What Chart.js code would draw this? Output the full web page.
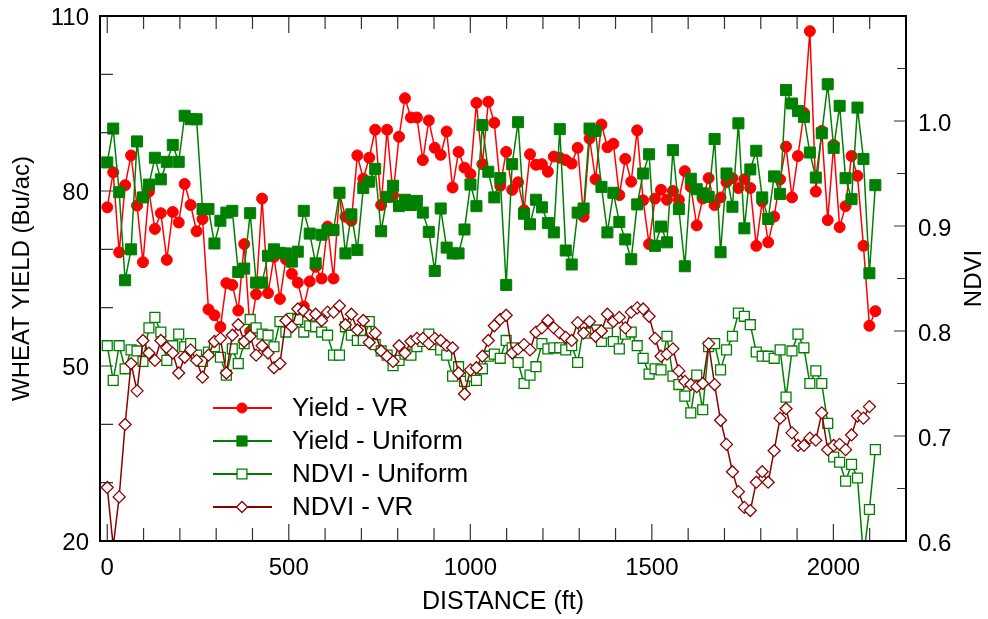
<!DOCTYPE html>
<html><head><meta charset="utf-8">
<script src="https://cdn.jsdelivr.net/npm/chart.js@4/dist/chart.umd.min.js"></script>
<style>html,body{margin:0;padding:0;background:#fff}canvas{display:block}</style>
</head><body>
<canvas id="c" width="988" height="619"></canvas>
<script>
// ---- data ----
const distanceFt = [
0,16.4,32.8,49.2,65.6,82,98.4,114.8,131.2,147.6,
164,180.4,196.8,213.2,229.6,246,262.4,278.8,295.2,311.6,
328,344.4,360.8,377.2,393.6,410,426.4,442.8,459.2,475.6,
492,508.4,524.8,541.2,557.6,574,590.4,606.8,623.2,639.6,
656,672.4,688.8,705.2,721.6,738,754.4,770.8,787.2,803.6,
820,836.4,852.8,869.2,885.6,902,918.4,934.8,951.2,967.6,
984,1000.4,1016.8,1033.2,1049.6,1066,1082.4,1098.8,1115.2,1131.6,
1148,1164.4,1180.8,1197.2,1213.6,1230,1246.4,1262.8,1279.2,1295.6,
1312,1328.4,1344.8,1361.2,1377.6,1394,1410.4,1426.8,1443.2,1459.6,
1476,1492.4,1508.8,1525.2,1541.6,1558,1574.4,1590.8,1607.2,1623.6,
1640,1656.4,1672.8,1689.2,1705.6,1722,1738.4,1754.8,1771.2,1787.6,
1804,1820.4,1836.8,1853.2,1869.6,1886,1902.4,1918.8,1935.2,1951.6,
1968,1984.4,2000.8,2017.2,2033.6,2050,2066.4,2082.8,2099.2,2115.6];

const yieldVR = [
77.2,83.2,69.5,81.0,86.1,77.5,67.8,79.9,73.5,76.2,
68.2,76.4,74.6,81.2,77.6,73.1,75.2,59.7,58.7,56.7,
64.2,63.9,59.5,70.9,55.9,62.3,78.7,62.5,68.7,61.5,
68.3,65.8,64.3,60.2,64.5,67.0,65.0,73.9,65.0,79.6,
75.6,74.9,86.1,82.1,85.7,90.5,77.6,90.5,79.3,89.3,
95.9,92.6,92.6,85.3,92.1,87.4,86.2,90.2,80.6,86.7,
84.0,82.9,95.1,84.6,95.3,91.7,80.9,86.7,80.2,81.5,
76.7,86.3,84.5,84.6,83.3,85.9,85.7,85.3,84.7,87.4,
75.6,89.0,82.0,91.4,87.5,88.1,79.3,85.5,81.6,90.4,
78.4,70.9,78.7,80.2,78.5,80.0,78.5,83.4,80.7,74.1,
78.7,82.2,77.6,78.9,81.5,82.2,80.5,82.0,80.5,70.6,
78.2,71.2,75.6,82.0,87.6,78.9,86.0,93.4,107.4,79.9,
90.3,75.0,87.9,73.8,77.4,86.0,82.6,70.6,56.9,59.4];

const yieldUniform = [
84.9,90.7,79.8,64.7,70.0,88.5,78.9,81.1,85.7,82.0,
85.0,87.9,85.0,92.9,92.3,92.3,76.9,76.9,71.0,74.9,
76.3,76.6,66.1,66.7,76.2,64.3,64.3,68.9,70.0,69.4,
69.3,67.9,69.6,76.6,72.7,67.6,72.5,73.3,73.3,79.7,
69.3,76.0,69.9,80.5,81.6,83.8,73.1,79.0,80.9,77.4,
78.5,77.6,78.3,76.3,73.0,66.3,77.0,70.3,69.3,69.3,
73.4,81.1,77.4,91.3,83.3,78.9,82.2,63.9,84.6,91.8,
76.1,74.3,78.5,77.2,74.5,72.9,90.6,69.8,67.4,76.3,
77.0,90.7,90.3,80.7,72.9,79.7,74.7,71.7,68.3,77.7,
83.0,86.3,70.6,73.9,71.2,87.0,76.9,67.1,82.1,80.3,
79.6,79.0,88.9,69.5,83.0,77.3,91.6,73.6,83.7,86.9,
78.9,75.2,82.5,79.5,97.3,95.0,93.7,92.7,86.6,82.3,
89.9,98.3,87.4,94.6,82.2,78.6,94.3,85.5,65.9,81.0];

const ndviUniform = [
0.786,0.753,0.786,0.764,0.782,0.781,0.771,0.803,0.813,0.799,
0.772,0.786,0.797,0.785,0.788,0.777,0.771,0.780,0.785,0.775,
0.758,0.783,0.769,0.788,0.811,0.803,0.797,0.796,0.785,0.809,
0.799,0.812,0.811,0.799,0.805,0.804,0.799,0.796,0.777,0.777,
0.804,0.796,0.791,0.791,0.809,0.787,0.781,0.777,0.767,0.772,
0.778,0.777,0.785,0.790,0.797,0.787,0.782,0.777,0.757,0.766,
0.752,0.757,0.753,0.764,0.776,0.778,0.774,0.791,0.784,0.770,
0.750,0.758,0.766,0.788,0.783,0.784,0.784,0.782,0.786,0.770,
0.803,0.798,0.801,0.790,0.798,0.790,0.783,0.797,0.799,0.786,
0.774,0.759,0.764,0.763,0.795,0.757,0.749,0.738,0.722,0.758,
0.725,0.785,0.788,0.763,0.782,0.795,0.817,0.814,0.806,0.780,
0.776,0.776,0.774,0.782,0.737,0.781,0.797,0.784,0.750,0.762,
0.750,0.712,0.680,0.675,0.657,0.673,0.660,0.585,0.630,0.687];

const ndviVR = [
0.651,0.595,0.642,0.711,0.769,0.743,0.791,0.779,0.772,0.791,
0.784,0.779,0.760,0.775,0.782,0.772,0.756,0.777,0.790,0.793,
0.760,0.796,0.806,0.790,0.795,0.777,0.786,0.779,0.765,0.769,
0.810,0.804,0.821,0.819,0.815,0.816,0.810,0.818,0.818,0.824,
0.806,0.816,0.801,0.810,0.789,0.798,0.781,0.776,0.771,0.786,
0.779,0.790,0.793,0.793,0.788,0.793,0.791,0.786,0.784,0.760,
0.740,0.763,0.765,0.776,0.791,0.805,0.811,0.815,0.779,0.783,
0.787,0.782,0.799,0.803,0.810,0.803,0.798,0.794,0.791,0.808,
0.798,0.809,0.795,0.800,0.816,0.809,0.813,0.803,0.818,0.822,
0.821,0.814,0.793,0.776,0.778,0.783,0.762,0.752,0.749,0.747,
0.750,0.788,0.749,0.715,0.692,0.666,0.647,0.632,0.629,0.656,
0.666,0.656,0.686,0.717,0.726,0.703,0.691,0.691,0.698,0.696,
0.722,0.687,0.691,0.692,0.687,0.701,0.719,0.717,0.728,null];

const seriesNames = ['Yield - VR', 'Yield - Uniform', 'NDVI - Uniform', 'NDVI - VR'];
const xTickLabels = [0, 500, 1000, 1500, 2000];
const leftTickLabels = [20, 50, 80, 110];
const rightTickLabels = [0.6, 0.7, 0.8, 0.9, 1.0];
const xTitle = 'DISTANCE (ft)';
const leftTitle = 'WHEAT YIELD (Bu/ac)';
const rightTitle = 'NDVI';

// ---- styling ----
const FONT = "'Liberation Sans', Arial, Helvetica, sans-serif";
const RED = '#ff0000', GREEN = '#008000', DARKRED = '#8b0000';
const TICK_SIZE = 24, TITLE_SIZE = 25, LEFT_TITLE_SIZE = 24, LEGEND_SIZE = 26;

const pts = arr => distanceFt.map((d, i) => ({x: d, y: arr[i]}));

const styles = [
  {color: RED, style: 'circle', r: 5.5, fill: RED, bw: 1, legR: 5},
  {color: GREEN, style: 'rect', r: 7.8, fill: GREEN, bw: 1, legR: 7.2},
  {color: GREEN, style: 'rect', r: 7, fill: '#ffffff', bw: 1.3, legR: 7},
  {color: DARKRED, style: 'rectRot', r: 6, fill: '#ffffff', bw: 1.3, legR: 5.5}
];
const seriesData = [yieldVR, yieldUniform, ndviUniform, ndviVR];
const axisIds = ['y', 'y', 'y2', 'y2'];
const drawOrder = [4, 3, 2, 1];

const datasets = seriesData.map((arr, k) => ({
  label: seriesNames[k],
  data: pts(arr),
  yAxisID: axisIds[k],
  order: drawOrder[k],
  borderColor: styles[k].color,
  backgroundColor: styles[k].fill,
  borderWidth: 1.5,
  pointStyle: styles[k].style,
  pointRadius: styles[k].r,
  pointBackgroundColor: styles[k].fill,
  pointBorderColor: styles[k].color,
  pointBorderWidth: styles[k].bw,
  tension: 0,
  spanGaps: false
}));

const frameTicks = {
  id: 'frameTicks',
  afterDraw(chart) {
    const {ctx, chartArea: a, scales} = chart;
    ctx.save();
    ctx.strokeStyle = '#333';
    ctx.lineWidth = 1.2;
    ctx.beginPath();
    for (let d = 0; d <= 2100; d += 100) {
      const px = scales.x.getPixelForValue(d);
      const len = d % 500 === 0 ? 17 : 13;
      ctx.moveTo(px, a.bottom); ctx.lineTo(px, a.bottom - len);
      ctx.moveTo(px, a.top); ctx.lineTo(px, a.top + len);
    }
    for (let v = 30; v < 110; v += 10) {
      const py = scales.y.getPixelForValue(v);
      ctx.moveTo(a.left, py); ctx.lineTo(a.left + 13, py);
    }
    for (let k = 13; k <= 21; k++) {
      const v = k / 20;
      const py = scales.y2.getPixelForValue(v);
      const len = k % 2 === 0 ? 12 : 9;
      ctx.moveTo(a.right, py); ctx.lineTo(a.right - len, py);
    }
    ctx.stroke();
    ctx.strokeStyle = '#000';
    ctx.lineWidth = 2;
    ctx.strokeRect(a.left, a.top, a.right - a.left, a.bottom - a.top);

    // right axis title (reads bottom-to-top)
    ctx.fillStyle = '#000';
    ctx.font = LEFT_TITLE_SIZE + 'px ' + FONT;
    ctx.textAlign = 'center';
    ctx.textBaseline = 'middle';
    ctx.translate(974, (a.top + a.bottom) / 2);
    ctx.rotate(-Math.PI / 2);
    ctx.fillText(rightTitle, 0, 0);
    ctx.restore();

    // legend inside the plot
    ctx.save();
    const rowsY = [408, 441, 474, 507];
    const lx0 = 213, lx1 = 272, mx = 242, tx = 292;
    ctx.font = LEGEND_SIZE + 'px ' + FONT;
    ctx.textAlign = 'left';
    ctx.textBaseline = 'middle';
    for (let k = 0; k < 4; k++) {
      const y = rowsY[k];
      ctx.strokeStyle = styles[k].color;
      ctx.lineWidth = 2;
      ctx.beginPath(); ctx.moveTo(lx0, y); ctx.lineTo(lx1, y); ctx.stroke();
      ctx.fillStyle = styles[k].fill;
      ctx.strokeStyle = styles[k].color;
      ctx.lineWidth = styles[k].bw;
      Chart.helpers.drawPoint(ctx, {pointStyle: styles[k].style, radius: styles[k].legR, rotation: 0, borderWidth: styles[k].bw}, mx, y);
      ctx.fillStyle = '#000';
      ctx.fillText(seriesNames[k], tx, y + 1);
    }
    ctx.restore();
  }
};

const zeroPad = s => { s.paddingTop = 0; s.paddingBottom = 0; s.paddingLeft = 0; s.paddingRight = 0; };

new Chart(document.getElementById('c'), {
  type: 'line',
  data: {datasets},
  options: {
    responsive: false,
    animation: false,
    devicePixelRatio: 1,
    layout: {padding: {top: 16, left: 0, right: 0, bottom: 0}},
    plugins: {legend: {display: false}, tooltip: {enabled: false}},
    scales: {
      x: {
        type: 'linear', position: 'bottom', min: -20, max: 2200,
        grid: {display: false, drawTicks: false}, border: {display: false},
        afterBuildTicks: s => { s.ticks = xTickLabels.map(v => ({value: v})); },
        ticks: {
          autoSkip: false, maxRotation: 0, minRotation: 0, padding: 13,
          color: '#000', font: {family: FONT, size: TICK_SIZE},
          callback: v => String(v)
        },
        title: {display: true, text: xTitle, color: '#000', font: {family: FONT, size: TITLE_SIZE}, padding: {top: 0, bottom: 2}},
        afterFit: s => { s.height = 78; zeroPad(s); }
      },
      y: {
        type: 'linear', position: 'left', min: 20, max: 110,
        grid: {display: false, drawTicks: false}, border: {display: false},
        afterBuildTicks: s => { s.ticks = leftTickLabels.map(v => ({value: v})); },
        ticks: {
          autoSkip: false, padding: 11, labelOffset: 2,
          color: '#000', font: {family: FONT, size: TICK_SIZE},
          callback: v => String(v)
        },
        title: {display: true, text: leftTitle, color: '#000', font: {family: FONT, size: LEFT_TITLE_SIZE}, padding: {top: 8, bottom: 0}},
        afterFit: s => { s.width = 100; zeroPad(s); }
      },
      y2: {
        type: 'linear', position: 'right', min: 0.6, max: 1.1,
        grid: {display: false, drawTicks: false}, border: {display: false},
        afterBuildTicks: s => { s.ticks = rightTickLabels.map(v => ({value: v})); },
        ticks: {
          autoSkip: false, padding: 12, labelOffset: 3,
          color: '#000', font: {family: FONT, size: TICK_SIZE},
          callback: v => Number(v).toFixed(1)
        },
        afterFit: s => { s.width = 82; zeroPad(s); }
      }
    }
  },
  plugins: [frameTicks]
});
</script>
</body></html>
